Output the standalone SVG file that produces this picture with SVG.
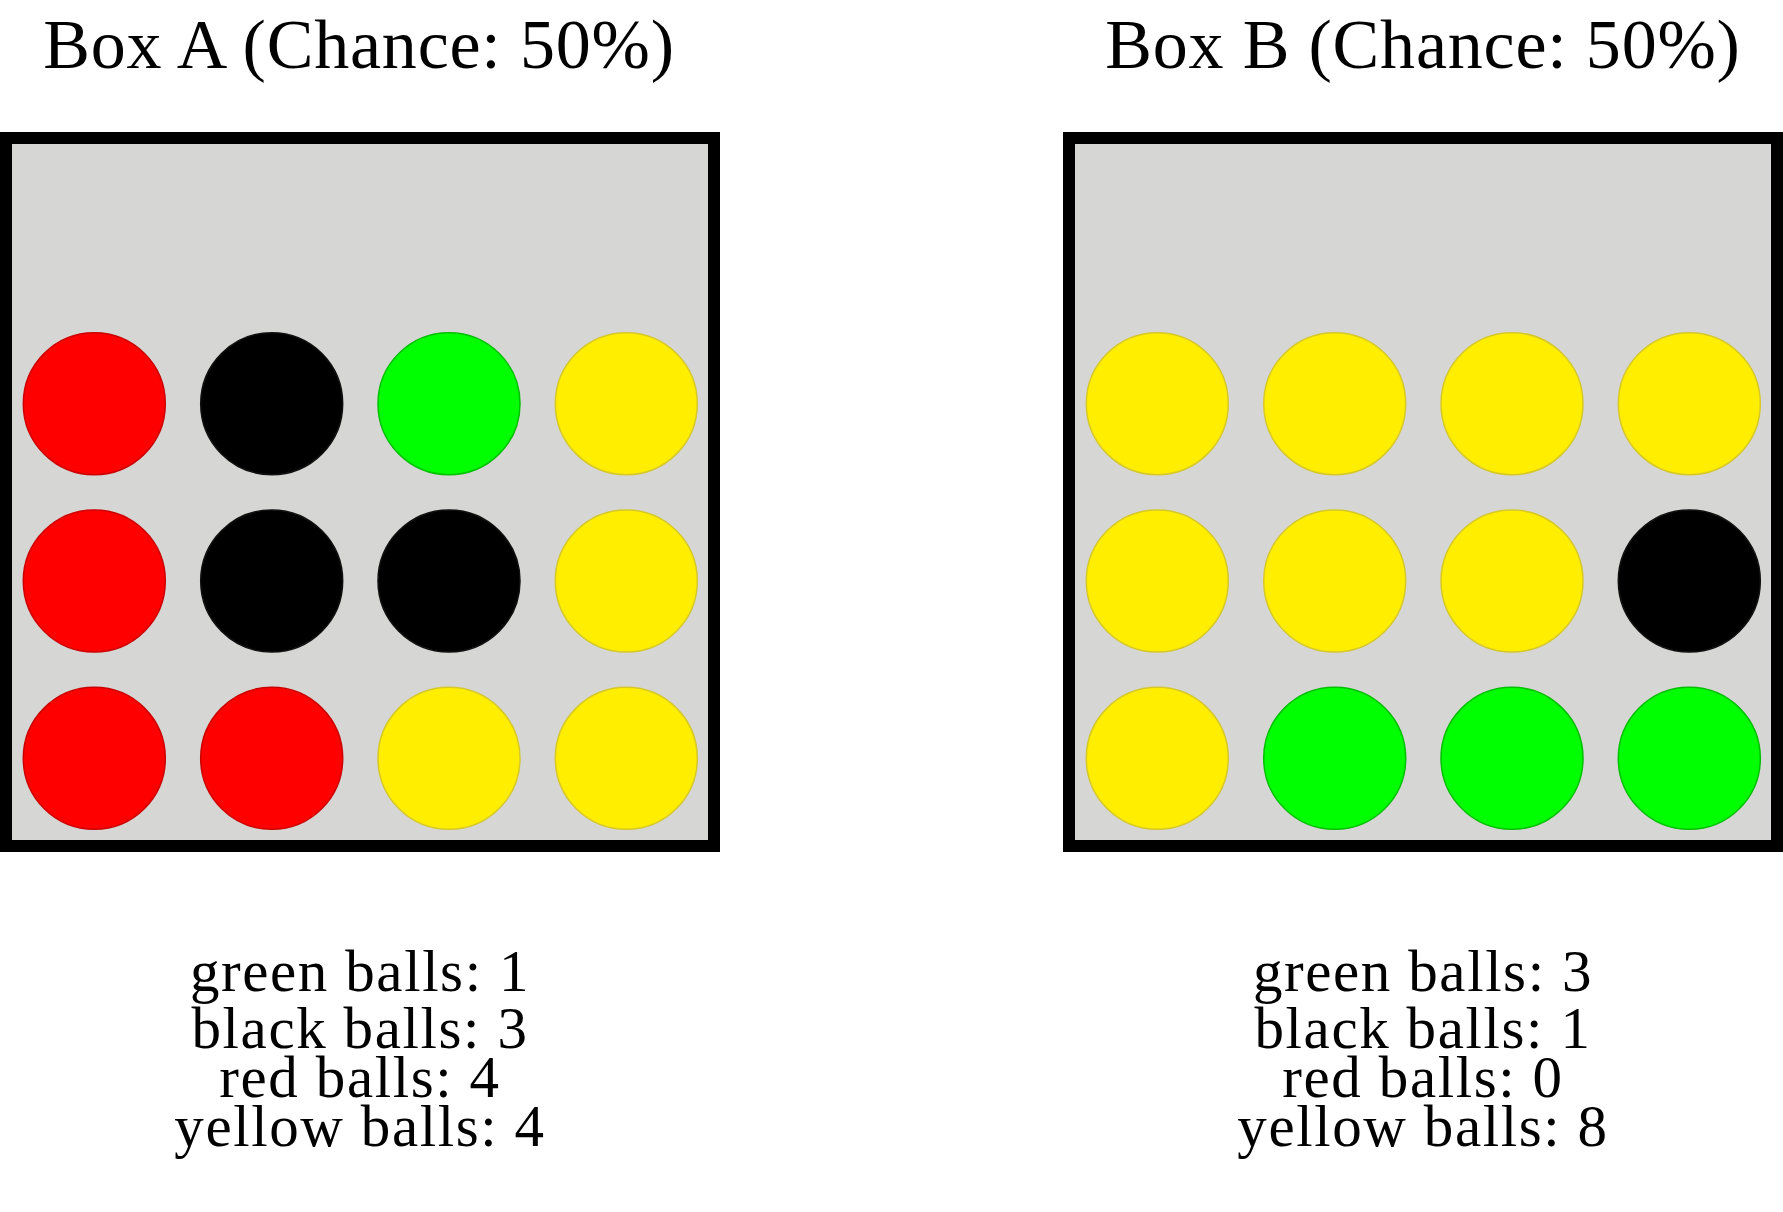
<svg xmlns="http://www.w3.org/2000/svg" width="1783" height="1212" viewBox="0 0 1783 1212">
<style>
.title{font-family:"Liberation Serif","DejaVu Serif",serif;font-size:70px;fill:#000;text-anchor:middle;letter-spacing:0.8px}
.count{font-family:"Liberation Serif","DejaVu Serif",serif;font-size:59px;fill:#000;text-anchor:middle;letter-spacing:1.6px}
.box{fill:#d6d6d4;stroke:#000;stroke-width:12}
.red{fill:#ff0000;stroke:#cc0000;stroke-width:1.5}
.black{fill:#000;stroke:#111;stroke-width:1.5}
.green{fill:#00ff00;stroke:#00c000;stroke-width:1.5}
.yellow{fill:#ffee00;stroke:#d6c828;stroke-width:1.5}
</style>
<rect width="1783" height="1212" fill="#fff"/>
<g id="boxA">
<text class="title" x="359" y="68">Box A (Chance: 50%)</text>
<rect class="box" x="6" y="138" width="708" height="708"/>
<g id="boxA-balls">
<circle class="red" cx="94.3" cy="403.7" r="71"/>
<circle class="black" cx="271.7" cy="403.7" r="71"/>
<circle class="green" cx="449" cy="403.7" r="71"/>
<circle class="yellow" cx="626.3" cy="403.7" r="71"/>
<circle class="red" cx="94.3" cy="581" r="71"/>
<circle class="black" cx="271.7" cy="581" r="71"/>
<circle class="black" cx="449" cy="581" r="71"/>
<circle class="yellow" cx="626.3" cy="581" r="71"/>
<circle class="red" cx="94.3" cy="758.3" r="71"/>
<circle class="red" cx="271.7" cy="758.3" r="71"/>
<circle class="yellow" cx="449" cy="758.3" r="71"/>
<circle class="yellow" cx="626.3" cy="758.3" r="71"/>
</g>
<g id="boxA-counts">
<text class="count" x="360" y="991">green balls: 1</text>
<text class="count" x="360" y="1048">black balls: 3</text>
<text class="count" x="360" y="1097">red balls: 4</text>
<text class="count" x="360" y="1146">yellow balls: 4</text>
</g>
</g>
<g id="boxB">
<text class="title" x="1423" y="68">Box B (Chance: 50%)</text>
<rect class="box" x="1069" y="138" width="708" height="708"/>
<g id="boxB-balls">
<circle class="yellow" cx="1157.3" cy="403.7" r="71"/>
<circle class="yellow" cx="1334.7" cy="403.7" r="71"/>
<circle class="yellow" cx="1512" cy="403.7" r="71"/>
<circle class="yellow" cx="1689.3" cy="403.7" r="71"/>
<circle class="yellow" cx="1157.3" cy="581" r="71"/>
<circle class="yellow" cx="1334.7" cy="581" r="71"/>
<circle class="yellow" cx="1512" cy="581" r="71"/>
<circle class="black" cx="1689.3" cy="581" r="71"/>
<circle class="yellow" cx="1157.3" cy="758.3" r="71"/>
<circle class="green" cx="1334.7" cy="758.3" r="71"/>
<circle class="green" cx="1512" cy="758.3" r="71"/>
<circle class="green" cx="1689.3" cy="758.3" r="71"/>
</g>
<g id="boxB-counts">
<text class="count" x="1423" y="991">green balls: 3</text>
<text class="count" x="1423" y="1048">black balls: 1</text>
<text class="count" x="1423" y="1097">red balls: 0</text>
<text class="count" x="1423" y="1146">yellow balls: 8</text>
</g>
</g>
<g id="connectors"/>
</svg>
